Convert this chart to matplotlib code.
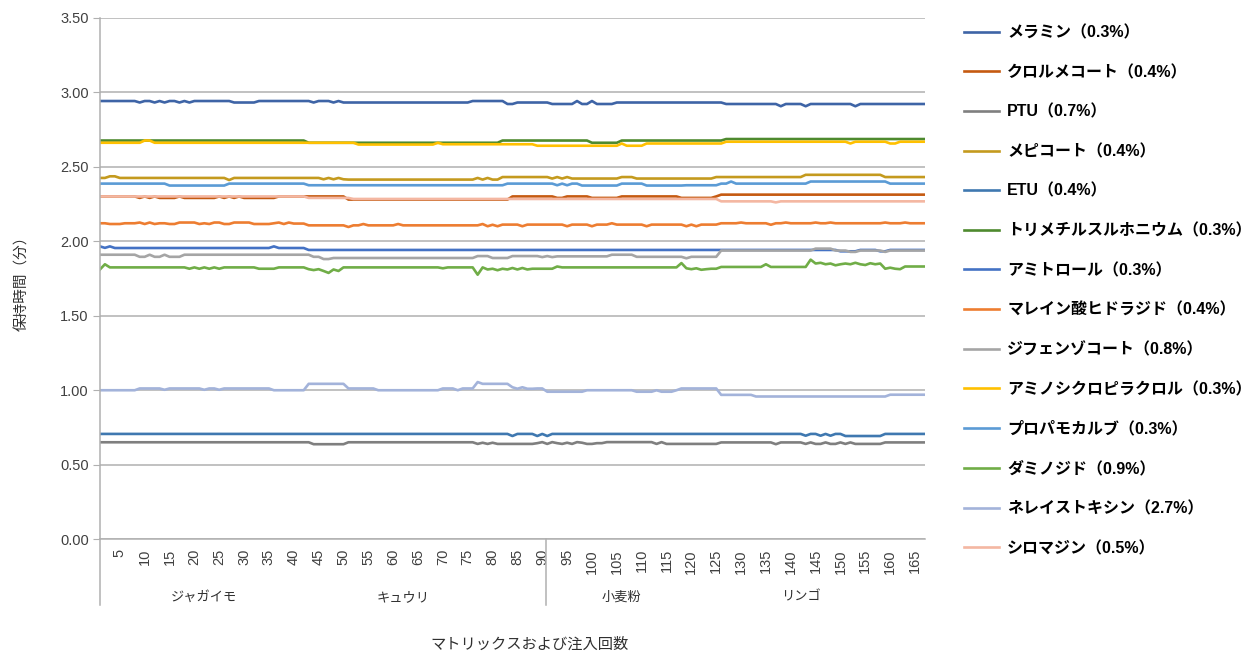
import matplotlib
matplotlib.use("Agg")
import matplotlib.pyplot as plt
import numpy as np
from matplotlib.ticker import FormatStrFormatter

plt.rcParams['font.family'] = ['Liberation Sans', 'Noto Sans CJK JP', 'DejaVu Sans']

# ---- données : (nombre d'injections, temps de rétention) ----
n_points = 167

melamine = [(8, 2.94), (1, 2.93), (2, 2.94), (1, 2.93), (1, 2.94), (1, 2.93), (2, 2.94),
            (1, 2.93), (1, 2.94), (1, 2.93), (1, 2.94), (7, 2.94), (5, 2.93), (11, 2.94),
            (1, 2.93), (3, 2.94), (1, 2.93), (1, 2.94), (26, 2.93), (7, 2.94), (2, 2.92),
            (7, 2.93), (5, 2.92), (1, 2.94), (2, 2.92), (1, 2.94), (4, 2.92), (22, 2.93),
            (11, 2.92), (1, 2.905), (4, 2.92), (1, 2.905), (9, 2.92), (1, 2.905), (14, 2.92)]

chlormequat = [(8, 2.30), (1, 2.29), (1, 2.30), (1, 2.29), (1, 2.30), (4, 2.29), (1, 2.30),
               (7, 2.29), (1, 2.30), (1, 2.29), (1, 2.30), (1, 2.29), (1, 2.30), (7, 2.29),
               (14, 2.30), (33, 2.279), (9, 2.30), (2, 2.29), (5, 2.30), (6, 2.29), (12, 2.30),
               (7, 2.29), (1, 2.30), (42, 2.312)]

ptu = [(43, 0.651), (7, 0.638), (26, 0.651), (1, 0.64), (1, 0.648), (1, 0.64), (1, 0.648),
       (8, 0.64), (1, 0.645), (1, 0.652), (1, 0.64), (1, 0.652), (1, 0.645), (1, 0.64),
       (1, 0.648), (1, 0.64), (1, 0.652), (1, 0.648), (2, 0.64), (2, 0.645), (10, 0.652),
       (1, 0.64), (1, 0.652), (11, 0.64), (11, 0.65), (1, 0.638), (5, 0.65), (1, 0.64),
       (1, 0.65), (2, 0.64), (1, 0.65), (2, 0.64), (1, 0.65), (1, 0.64), (1, 0.65),
       (6, 0.64), (9, 0.65)]

mepiquat = [(2, 2.424), (2, 2.435), (22, 2.424), (1, 2.41), (18, 2.424), (1, 2.415),
            (1, 2.424), (1, 2.415), (1, 2.424), (1, 2.415), (26, 2.413), (1, 2.424),
            (1, 2.413), (1, 2.424), (2, 2.413), (10, 2.43), (1, 2.42), (1, 2.43), (1, 2.42),
            (1, 2.43), (10, 2.42), (3, 2.43), (16, 2.42), (18, 2.43), (16, 2.445), (9, 2.43)]

etu = [(83, 0.707), (1, 0.693), (4, 0.707), (1, 0.693), (1, 0.707), (1, 0.693), (51, 0.707),
       (1, 0.695), (2, 0.707), (1, 0.695), (1, 0.707), (1, 0.695), (2, 0.707), (8, 0.693),
       (9, 0.707)]

trimethylsulfonium = [(42, 2.675), (39, 2.66), (18, 2.675), (6, 2.66), (21, 2.675), (41, 2.685)]

amitrole = [(1, 1.965), (1, 1.955), (1, 1.965), (32, 1.954), (1, 1.965), (6, 1.954),
            (107, 1.941), (4, 1.932), (4, 1.941), (2, 1.932), (8, 1.941)]

maleic_hydrazide = [(2, 2.12), (3, 2.115), (3, 2.12), (1, 2.125), (1, 2.115), (1, 2.125),
                    (1, 2.115), (2, 2.12), (2, 2.115), (4, 2.125), (1, 2.115), (1, 2.12),
                    (1, 2.115), (2, 2.125), (2, 2.115), (4, 2.125), (4, 2.115), (1, 2.12),
                    (1, 2.125), (1, 2.115), (1, 2.125), (3, 2.118), (8, 2.106), (1, 2.095),
                    (2, 2.106), (1, 2.115), (6, 2.106), (1, 2.115), (16, 2.106), (1, 2.115),
                    (1, 2.10), (1, 2.11), (1, 2.10), (4, 2.111), (1, 2.10), (8, 2.111),
                    (1, 2.10), (4, 2.111), (1, 2.10), (3, 2.111), (1, 2.12), (6, 2.111),
                    (1, 2.10), (7, 2.111), (1, 2.10), (1, 2.111), (1, 2.10), (4, 2.111),
                    (4, 2.12), (1, 2.125), (5, 2.12), (1, 2.11), (2, 2.12), (1, 2.125),
                    (5, 2.12), (1, 2.125), (2, 2.12), (1, 2.125), (10, 2.12), (1, 2.125),
                    (3, 2.12), (1, 2.125), (4, 2.12)]

difenzoquat = [(8, 1.909), (2, 1.895), (1, 1.909), (2, 1.895), (1, 1.909), (3, 1.895),
               (26, 1.909), (2, 1.895), (2, 1.88), (29, 1.887), (3, 1.90), (4, 1.887),
               (6, 1.90), (1, 1.893), (1, 1.90), (1, 1.893), (11, 1.898), (5, 1.909),
               (10, 1.895), (1, 1.885), (6, 1.895), (19, 1.937), (4, 1.95), (3, 1.937),
               (2, 1.928), (5, 1.937), (1, 1.928), (8, 1.937)]

aminocyclopyrachlor = [(9, 2.66), (2, 2.675), (41, 2.66), (16, 2.648), (1, 2.66), (19, 2.65),
                       (17, 2.64), (1, 2.655), (4, 2.64), (16, 2.655), (25, 2.667), (1, 2.655),
                       (7, 2.667), (2, 2.655), (6, 2.667)]

propamocarb = [(14, 2.386), (12, 2.373), (16, 2.386), (40, 2.375), (10, 2.386), (1, 2.375),
               (1, 2.386), (1, 2.375), (2, 2.386), (8, 2.373), (5, 2.386), (8, 2.373),
               (7, 2.375), (2, 2.386), (1, 2.40), (15, 2.386), (16, 2.40), (8, 2.386)]

daminozide = [(1, 1.81), (1, 1.845), (16, 1.824), (1, 1.815), (1, 1.824), (1, 1.815),
              (1, 1.824), (1, 1.815), (1, 1.824), (1, 1.815), (7, 1.824), (4, 1.815),
              (6, 1.824), (1, 1.812), (1, 1.806), (1, 1.812), (1, 1.80), (1, 1.787),
              (1, 1.81), (1, 1.80), (20, 1.824), (1, 1.818), (6, 1.824), (1, 1.775),
              (1, 1.824), (1, 1.81), (1, 1.815), (1, 1.805), (1, 1.815), (1, 1.81),
              (1, 1.82), (1, 1.81), (1, 1.82), (1, 1.81), (5, 1.815), (1, 1.83), (24, 1.824),
              (1, 1.853), (1, 1.818), (1, 1.812), (1, 1.818), (1, 1.808), (1, 1.812),
              (2, 1.815), (9, 1.827), (1, 1.845), (8, 1.827), (1, 1.876), (1, 1.85),
              (1, 1.855), (1, 1.845), (1, 1.85), (1, 1.838), (1, 1.845), (1, 1.85),
              (1, 1.845), (1, 1.855), (1, 1.845), (1, 1.84), (1, 1.852), (1, 1.845),
              (1, 1.85), (1, 1.815), (1, 1.822), (1, 1.815), (1, 1.812), (5, 1.83)]

nereistoxin = [(8, 1.00), (5, 1.012), (1, 1.003), (7, 1.012), (1, 1.003), (2, 1.012),
               (1, 1.003), (10, 1.012), (7, 1.00), (8, 1.043), (6, 1.012), (13, 1.00),
               (3, 1.012), (1, 1.00), (3, 1.012), (1, 1.055), (6, 1.043), (1, 1.02),
               (1, 1.01), (1, 1.02), (2, 1.01), (2, 1.012), (8, 0.99), (10, 1.00), (4, 0.99),
               (1, 1.00), (3, 0.99), (1, 1.00), (8, 1.012), (7, 0.969), (27, 0.958), (8, 0.97)]

cyromazine = [(42, 2.30), (9, 2.29), (74, 2.283), (11, 2.267), (1, 2.26), (30, 2.267)]

series_labels = ["メラミン（0.3%）", "クロルメコート（0.4%）", "PTU（0.7%）", "メピコート（0.4%）",
                 "ETU（0.4%）", "トリメチルスルホニウム（0.3%）", "アミトロール（0.3%）",
                 "マレイン酸ヒドラジド（0.4%）", "ジフェンゾコート（0.8%）",
                 "アミノシクロピラクロル（0.3%）", "プロパモカルブ（0.3%）", "ダミノジド（0.9%）",
                 "ネレイストキシン（2.7%）", "シロマジン（0.5%）"]
series_runs = [melamine, chlormequat, ptu, mepiquat, etu, trimethylsulfonium, amitrole,
               maleic_hydrazide, difenzoquat, aminocyclopyrachlor, propamocarb, daminozide,
               nereistoxin, cyromazine]
couleurs = ["#3E64A6", "#C55A11", "#7F7F7F", "#C49A1E", "#3F78B0", "#4E8A2E", "#4472C4",
            "#ED7D31", "#A5A5A5", "#FFC000", "#5B9BD5", "#70AD47", "#A3B3DA", "#F4B7A2"]

matrices = ["ジャガイモ", "キュウリ", "小麦粉", "リンゴ"]
pos_matrices = [22, 62, 106, 142]   # position des étiquettes de groupe
separations = [1, 90.7]

tick_pos = list(range(5, 166, 5))


def developper(runs):
    valeurs = []
    for n, v in runs:
        valeurs += [v] * n
    return valeurs[:n_points] + [valeurs[-1]] * (n_points - len(valeurs))


#### Tracé
fig = plt.figure(figsize=(12.54, 6.59), dpi=100)
ax = fig.add_axes([0.0797, 0.1816, 0.6579, 0.7918])

x = np.arange(1, n_points + 1)
for label, runs, c in zip(series_labels, series_runs, couleurs):
    ax.plot(x, developper(runs), color=c, lw=1.9, label=label, solid_joinstyle="round")

ax.set_xlim(1, n_points)
ax.set_ylim(0, 3.5)
ax.set_yticks(np.arange(0, 3.51, 0.5))
ax.yaxis.set_major_formatter(FormatStrFormatter("%.2f"))
ax.grid(axis="y", color="#B0B0B0", lw=1.1)
ax.set_axisbelow(True)
for s in ["top", "right"]:
    ax.spines[s].set_visible(False)
for s in ["left", "bottom"]:
    ax.spines[s].set_color("#B0B0B0")
    ax.spines[s].set_linewidth(1.1)
ax.tick_params(axis="y", length=5, color="#B0B0B0", labelsize=10.5, labelcolor="#404040", pad=3)

ax.set_xticks(tick_pos)
ax.set_xticklabels([str(t) for t in tick_pos], rotation=90, va="top")
ax.tick_params(axis="x", length=0, labelsize=10.5, labelcolor="#404040", pad=7)

trans = ax.get_xaxis_transform()
for xs in separations:
    ax.plot([xs, xs], [0, -0.126], transform=trans, color="#B0B0B0", lw=1.1, clip_on=False)
for nom, p in zip(matrices, pos_matrices):
    ax.text(p, -0.112, nom, transform=trans, ha="center", va="center", fontsize=9.5, color="#303030")

fig.text(530 / 1254, 1 - 645 / 659, "マトリックスおよび注入回数", ha="center", va="center",
         fontsize=11, color="#303030")
fig.text(22 / 1254, 1 - 280 / 659, "保持時間（分）", rotation=90, ha="center", va="center",
         fontsize=10.5, color="#303030")

fig.legend(loc="upper left", bbox_to_anchor=(964 / 1254, 1 - 25 / 659), frameon=False,
           prop={"weight": "bold", "size": 11.5}, labelspacing=1.52, handlelength=2.2,
           handletextpad=0.5, borderaxespad=0, borderpad=0)

plt.savefig("out.png", dpi=100)
